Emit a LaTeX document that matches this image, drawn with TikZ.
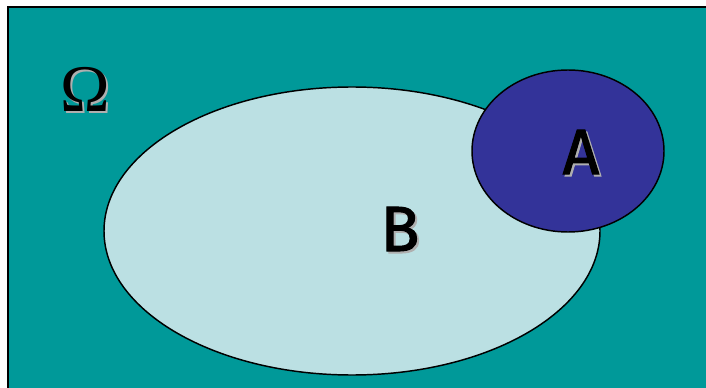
\documentclass[tikz,border=0pt]{standalone}
\usepackage{fontspec}
\newfontfamily\letterfont{Fira Sans}[FakeBold=1.6]
\newfontfamily\omegafont{Liberation Serif}
\usepackage{xcolor}
\usepackage{tikz}
\definecolor{omegaTeal}{RGB}{0, 153, 153}
\definecolor{setB}{RGB}{187, 224, 227}
\definecolor{setA}{RGB}{51, 51, 153}
\definecolor{letterShade}{RGB}{175, 175, 175}

\begin{document}
\begin{tikzpicture}[x=0.75pt, y=-0.75pt,
    edge/.style={draw=black, line width=1.1pt},
    letter/.style={font=\fontsize{48}{48}\selectfont\letterfont, inner sep=0pt, text=black},
    shade/.style={letter, text=letterShade},
    greek/.style={font=\fontsize{50}{50}\selectfont\omegafont, inner sep=0pt, text=black}]

    \useasboundingbox (0,0) rectangle (706,388);
    \fill[white] (0,0) rectangle (706,388);

    % sample space
    \fill[omegaTeal] (8,7) rectangle (706,388);
    \draw[line width=1.5pt] (8,388) -- (8,7) -- (706,7);

    % the two sets
    \fill[setB, edge] (352,231) ellipse [x radius=248, y radius=144];
    \fill[setA, edge] (568,151) ellipse [x radius=96, y radius=81];

    % labels with shadow
    \node[greek, text=letterShade] (omegashade) at (87,91) {Ω};
    \node[greek] (omega) at (85,89) {Ω};

    \node[shade] (ashade) at (583,154) {A};
    \node[letter] (a) at (581,152) {A};

    \node[shade] (bshade) at (402,231) {B};
    \node[letter] (b) at (400,229) {B};

\end{tikzpicture}
\end{document}
